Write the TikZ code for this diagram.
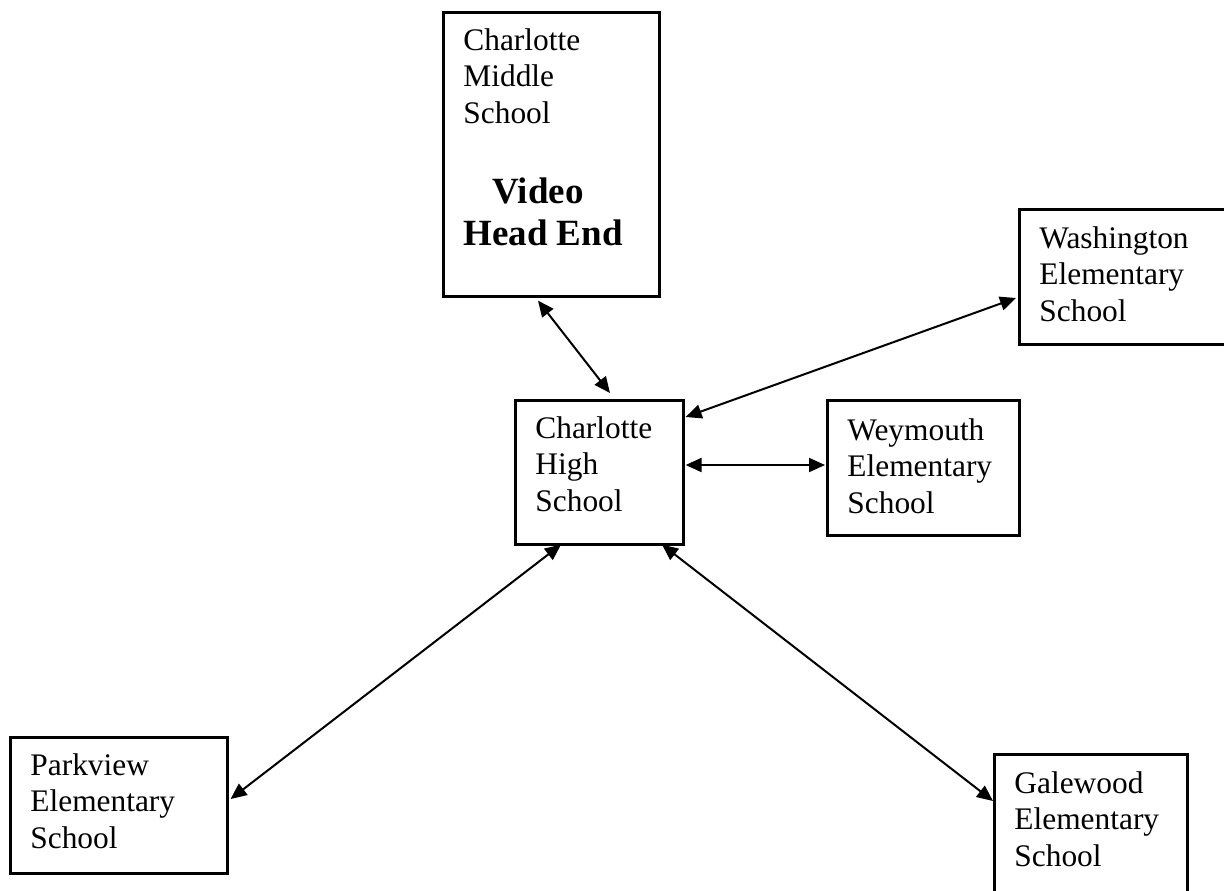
\documentclass[tikz,border=0pt]{standalone}
\usepackage{fontspec}
\setmainfont{Liberation Serif}
\usetikzlibrary{arrows.meta,calc}
\newcommand\mylines[1]{\begin{tabular}[t]{@{}l@{}}#1\end{tabular}}
\begin{document}
\begin{tikzpicture}[x=0.5pt,y=-0.5pt,
  >={Triangle[length=8pt,width=7pt]},
  box/.style={draw=black,line width=1.3pt,rectangle,inner sep=0pt,anchor=north west},
  txt/.style={inner sep=0pt,anchor=base west,font=\fontsize{15.7pt}{18.25pt}\selectfont},
  btxt/.style={inner sep=0pt,anchor=base west,font=\fontsize{18.5pt}{21pt}\selectfont\bfseries},
  conn/.style={<->,line width=1pt,draw=black}]
\useasboundingbox (0,0) rectangle (1224,890);
\fill[white] (0,0) rectangle (1224,890);

% boxes
\node[box,minimum width=108pt,minimum height=142pt] (ms) at (442,11) {};
\node[box,minimum width=109pt,minimum height=67.5pt] (wash) at (1018,208) {};
\node[box,minimum width=84pt,minimum height=72pt] (high) at (514,399) {};
\node[box,minimum width=96pt,minimum height=67.5pt] (wey) at (826,399) {};
\node[box,minimum width=108.5pt,minimum height=68pt] (park) at (9,736) {};
\node[box,minimum width=96.5pt,minimum height=73pt] (gale) at (993,753) {};

% texts
\node[txt] (mst) at (463,50) {\mylines{Charlotte\\Middle\\School}};
\node[btxt] (msv) at (463,203) {\mylines{\hspace{14.5pt}Video\\Head End}};
\node[txt] (washt) at (1039,248) {\mylines{Washington\\Elementary\\School}};
\node[txt] (hight) at (535,438) {\mylines{Charlotte\\High\\School}};
\node[txt] (weyt) at (847,440) {\mylines{Weymouth\\Elementary\\School}};
\node[txt] (parkt) at (30,775) {\mylines{Parkview\\Elementary\\School}};
\node[txt] (galet) at (1014,793) {\mylines{Galewood\\Elementary\\School}};

% connectors
\draw[conn] ($(ms.south west)+(96,3)$) -- ($(high.north west)+(96,-6)$);
\draw[conn] ($(wash.north west)+(-2,90)$) -- ($(high.north east)+(1,18)$);
\draw[conn] ($(high.north east)+(1,66)$) -- ($(wey.north west)+(-1,66)$);
\draw[conn] ($(high.south west)+(47,-1)$) -- ($(park.north east)+(2,63)$);
\draw[conn] ($(high.south west)+(148,-1)$) -- ($(gale.north west)+(0,48)$);
\end{tikzpicture}
\end{document}
